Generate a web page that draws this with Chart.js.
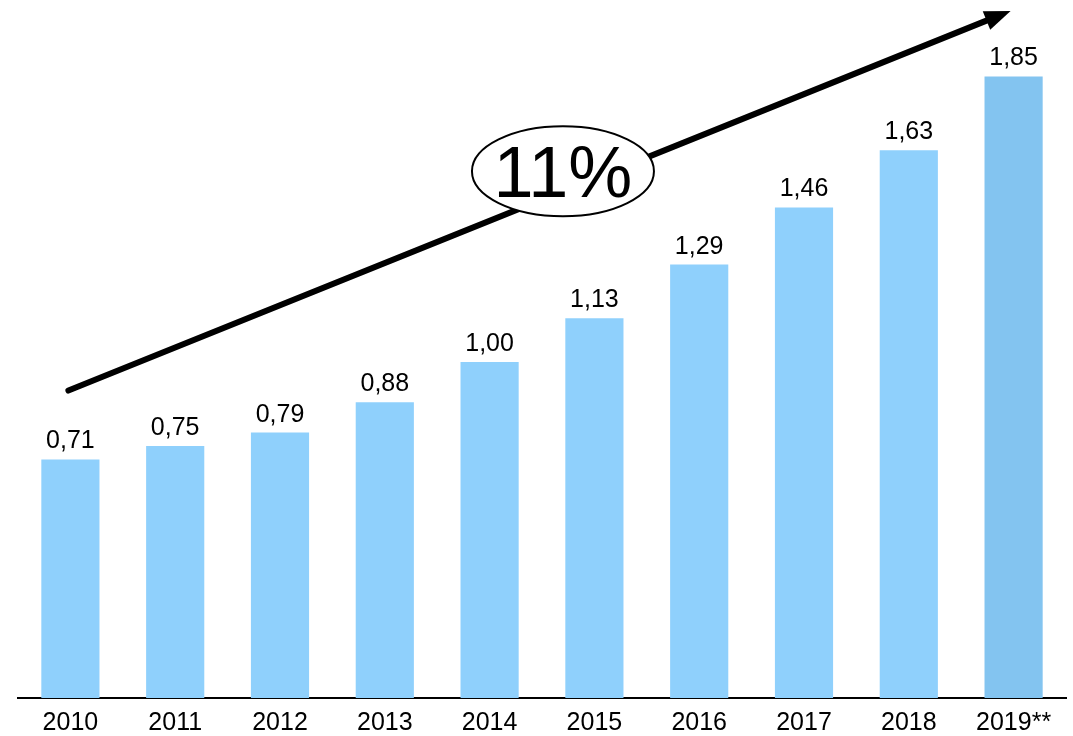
<!DOCTYPE html>
<html>
<head>
<meta charset="utf-8">
<script src="https://cdn.jsdelivr.net/npm/chart.js@4/dist/chart.umd.min.js"></script>
<style>
  html, body { margin: 0; padding: 0; background: #fff; }
  #wrap { width: 1073px; height: 736px; }
</style>
</head>
<body>
<div id="wrap"><canvas id="chart"></canvas></div>
<script>
const years = ['2010', '2011', '2012', '2013', '2014', '2015', '2016', '2017', '2018', '2019**'];
const values = [0.71, 0.75, 0.79, 0.88, 1.00, 1.13, 1.29, 1.46, 1.63, 1.85];
const barColors = ['#8fd0fc', '#8fd0fc', '#8fd0fc', '#8fd0fc', '#8fd0fc', '#8fd0fc', '#8fd0fc', '#8fd0fc', '#8fd0fc', '#83c4f0'];
const growthLabel = '11%';

// value labels above bars, comma decimals
const valueLabels = {
    id: 'valueLabels',
    afterDatasetsDraw(chart) {
        const ctx = chart.ctx;
        const meta = chart.getDatasetMeta(0);
        ctx.save();
        ctx.font = '25px "Liberation Sans", Arial, sans-serif';
        ctx.fillStyle = '#000';
        ctx.textAlign = 'center';
        ctx.textBaseline = 'alphabetic';
        meta.data.forEach(function(bar, i) {
            ctx.fillText(values[i].toFixed(2).replace('.', ','), bar.x, bar.y - 11);
        });
        ctx.restore();
    }
};

// trend arrow with the CAGR ellipse
const trendArrow = {
    id: 'trendArrow',
    afterDraw(chart) {
        const ctx = chart.ctx;
        const x = chart.scales.x, y = chart.scales.y;
        const x0 = x.getPixelForValue(0) - 2, y0 = y.getPixelForValue(0.915);
        const x1 = x.getPixelForValue(9) - 3, y1 = y.getPixelForValue(2.045);
        const ang = Math.atan2(y1 - y0, x1 - x0);
        ctx.save();
        ctx.strokeStyle = '#000';
        ctx.fillStyle = '#000';
        ctx.lineWidth = 6;
        ctx.lineCap = 'round';
        ctx.beginPath();
        ctx.moveTo(x0, y0);
        ctx.lineTo(x1 - 16 * Math.cos(ang), y1 - 16 * Math.sin(ang));
        ctx.stroke();
        ctx.beginPath();
        ctx.moveTo(x1, y1);
        ctx.lineTo(x1 - 26 * Math.cos(ang) + 10 * Math.sin(ang), y1 - 26 * Math.sin(ang) - 10 * Math.cos(ang));
        ctx.lineTo(x1 - 26 * Math.cos(ang) - 10 * Math.sin(ang), y1 - 26 * Math.sin(ang) + 10 * Math.cos(ang));
        ctx.closePath();
        ctx.fill();

        // ellipse sits just above the arrow
        const cx = x.getPixelForValue(4.7);
        const cy = y0 + (y1 - y0) * (cx - x0) / (x1 - x0) - 20;
        ctx.beginPath();
        ctx.ellipse(cx, cy, 91, 45, 0, 0, Math.PI * 2);
        ctx.fillStyle = '#fff';
        ctx.fill();
        ctx.lineWidth = 2;
        ctx.stroke();
        ctx.fillStyle = '#000';
        ctx.font = '72px "Liberation Sans", Arial, sans-serif';
        ctx.textAlign = 'center';
        ctx.textBaseline = 'alphabetic';
        ctx.fillText(growthLabel, cx, cy + 26);
        ctx.restore();
    }
};

new Chart(document.getElementById('chart').getContext('2d'), {
    type: 'bar',
    data: {
        labels: years,
        datasets: [{
            data: values,
            backgroundColor: barColors,
            barPercentage: 0.555,
            categoryPercentage: 1.0
        }]
    },
    options: {
        responsive: true,
        maintainAspectRatio: false,
        animation: false,
        layout: { padding: { left: 18, right: 7, top: 26, bottom: 0 } },
        plugins: {
            legend: { display: false },
            tooltip: { enabled: false }
        },
        scales: {
            x: {
                grid: { display: false, drawTicks: false },
                border: { color: '#000', width: 2 },
                afterFit: function(scale) { scale.height = 38; },
                ticks: {
                    color: '#000',
                    padding: 18,
                    font: { size: 25, family: '"Liberation Sans", Arial, sans-serif', lineHeight: 0.6 }
                }
            },
            y: {
                display: false,
                min: 0,
                max: 2.0
            }
        }
    },
    plugins: [valueLabels, trendArrow]
});
</script>
</body>
</html>
